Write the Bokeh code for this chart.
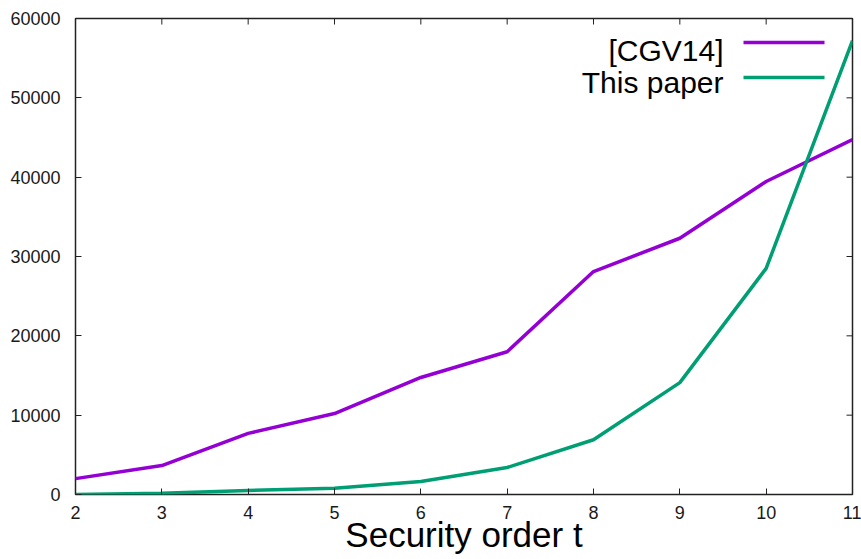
import math
from bokeh.plotting import figure
from bokeh.models import Range1d, FixedTicker, Label, BoxAnnotation
from bokeh.embed import file_html
from bokeh.resources import INLINE

# Data
t_values = [2, 3, 4, 5, 6, 7, 8, 9, 10, 11]
cgv14 = [2000, 3650, 7700, 10200, 14750, 18000, 28100, 32300, 39450, 44750]
this_paper = [0, 150, 500, 800, 1650, 3400, 6900, 14100, 28500, 57200]
x_ticks = [2, 3, 4, 5, 6, 7, 8, 9, 10, 11]
y_ticks = [0, 10000, 20000, 30000, 40000, 50000, 60000]
series_names = ["[CGV14]", "This paper"]
series_colors = ["#9400D3", "#009E73"]
x_label = "Security order t"

FONT = "Liberation Sans"
W, H = 861, 559
B_LEFT, B_RIGHT, B_TOP, B_BOTTOM = 75, 9, 18, 65
FRAME_H = H - B_TOP - B_BOTTOM

p = figure(width=W, height=H, output_backend="svg", toolbar_location=None,
           x_range=Range1d(x_ticks[0], x_ticks[-1]), y_range=Range1d(y_ticks[0], y_ticks[-1]),
           min_border_left=B_LEFT, min_border_right=B_RIGHT,
           min_border_top=B_TOP, min_border_bottom=B_BOTTOM)

p.xgrid.visible = False
p.ygrid.visible = False
p.outline_line_color = "#222222"
p.outline_line_width = 1.5
p.background_fill_color = "white"
p.border_fill_color = "white"

for ax, ticks in ((p.xaxis[0], x_ticks), (p.yaxis[0], y_ticks)):
    ax.ticker = FixedTicker(ticks=ticks)
    ax.major_tick_in = 6
    ax.major_tick_out = 0
    ax.minor_tick_line_color = None
    ax.major_tick_line_color = "#222222"
    ax.axis_line_color = None
    ax.major_label_text_font = FONT
    ax.major_label_text_color = "#1a1a1a"
    ax.major_label_text_font_size = "18px"
p.xaxis[0].major_label_standoff = 11
p.yaxis[0].major_label_standoff = 15

p.xaxis[0].axis_label = x_label
p.xaxis[0].axis_label_text_font = FONT
p.xaxis[0].axis_label_text_font_size = "35px"
p.xaxis[0].axis_label_text_font_style = "normal"
p.xaxis[0].axis_label_text_color = "#000000"
p.xaxis[0].axis_label_standoff = -7

# mirror ticks (gnuplot style) on top and right edges, clipped to the frame
p.scatter(x_ticks, [y_ticks[-1]] * len(x_ticks), marker="dash", angle=math.pi / 2,
          size=12, line_color="#222222", line_width=1)
p.scatter([x_ticks[-1]] * len(y_ticks), y_ticks, marker="dash",
          size=12, line_color="#222222", line_width=1)

p.line(t_values, cgv14, line_color=series_colors[0], line_width=3.5)
p.line(t_values, this_paper, line_color=series_colors[1], line_width=3.5)

# Legend (gnuplot style: text right-aligned, sample to the right)
legend_text_y = [FRAME_H - 32, FRAME_H - 64]
legend_line_y = [FRAME_H - 24, FRAME_H - 59]
for name, color, ty, ly in zip(series_names, series_colors, legend_text_y, legend_line_y):
    p.add_layout(Label(x=648, y=ty, x_units="screen", y_units="screen", text=name,
                       text_align="right", text_baseline="alphabetic",
                       text_font=FONT, text_font_size="30px", text_color="#000000"))
    p.add_layout(BoxAnnotation(left=668, right=749, bottom=ly - 1.75, top=ly + 1.75,
                               left_units="screen", right_units="screen",
                               bottom_units="screen", top_units="screen",
                               fill_color=color, fill_alpha=1, line_color=None))

open("out.html", "w").write(file_html(p, INLINE))
